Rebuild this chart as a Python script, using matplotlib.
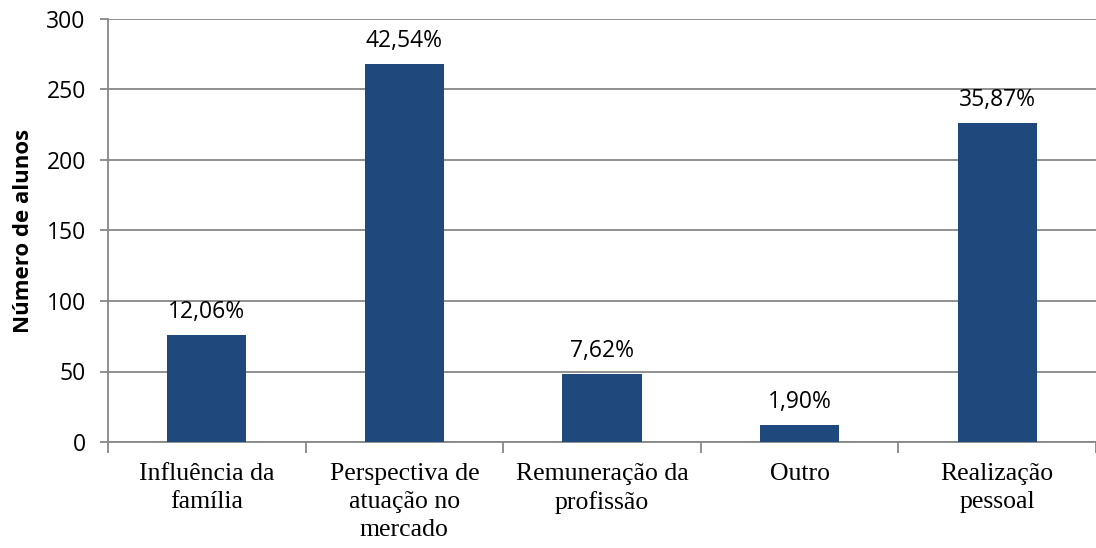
import matplotlib.pyplot as plt
import numpy as np

# dados do grafico
categorias = ['Influência da\nfamília', 'Perspectiva de\natuação no\nmercado',
              'Remuneração da\nprofissão', 'Outro', 'Realização\npessoal']
alunos = [76, 268, 48, 12, 226]
percentuais = ['12,06%', '42,54%', '7,62%', '1,90%', '35,87%']
yticks = [0, 50, 100, 150, 200, 250, 300]

cor_barra = '#1F497D'
cor_grade = '#878787'

fig = plt.figure(figsize=(10.96, 5.48), dpi=100)
ax = fig.add_axes([108 / 1096, 1 - 442 / 548, 1 - 108 / 1096, (442 - 19) / 548])

x = np.arange(len(categorias))
ax.bar(x, alunos, width=0.4, color=cor_barra, zorder=3)

# rotulos de percentual acima das barras
for xi, v, p in zip(x, alunos, percentuais):
    ax.annotate(p, (xi, v), xytext=(0, 8), textcoords='offset points',
                ha='center', va='bottom', fontsize=16.5, family='Open Sans')

ax.set_xlim(-0.5, len(categorias) - 0.5)
ax.set_ylim(0, 300)
ax.set_yticks(yticks)
ax.set_yticklabels([str(t) for t in yticks], fontsize=16.5, family='Open Sans')
ax.yaxis.grid(True, color=cor_grade, linewidth=1.3, zorder=0)
ax.tick_params(axis='y', length=6, width=1.3, color=cor_grade, pad=10)

# categorias com marcas entre elas
ax.set_xticks(x)
ax.set_xticklabels(categorias, fontsize=18.5, family='Liberation Serif', linespacing=1.35)
ax.tick_params(axis='x', length=0, pad=15)
ax.set_xticks(np.arange(-0.5, len(categorias)), minor=True)
ax.tick_params(axis='x', which='minor', length=8, width=1.3, color=cor_grade)

for lado in ['top', 'right']:
    ax.spines[lado].set_visible(False)
for lado in ['left', 'bottom']:
    ax.spines[lado].set_color(cor_grade)
    ax.spines[lado].set_linewidth(1.3)

ax.set_ylabel('Número de alunos', fontsize=16, fontweight='bold', family='Open Sans', labelpad=9)

fig.savefig('out.png', dpi=100)
